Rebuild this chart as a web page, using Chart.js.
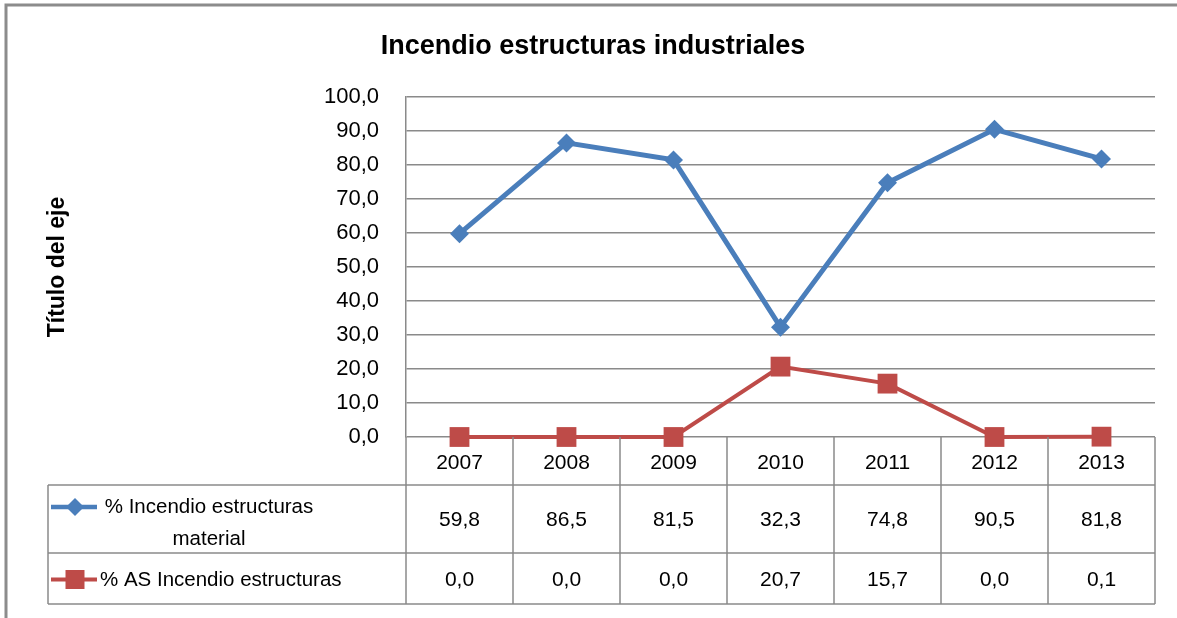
<!DOCTYPE html>
<html lang="es">
<head>
    <meta charset="UTF-8">
    <title>Incendio estructuras industriales</title>
    <script src="https://cdn.jsdelivr.net/npm/chart.js"></script>
    <style>
        body { margin: 0; background: #fff; }
        canvas { display: block; }
    </style>
</head>
<body>
    <canvas id="chart" width="1177" height="618"></canvas>

    <script>
        // Data
        const years = ['2007', '2008', '2009', '2010', '2011', '2012', '2013'];
        const incendioMaterial = [59.8, 86.5, 81.5, 32.3, 74.8, 90.5, 81.8];
        const asIncendio = [0.0, 0.0, 0.0, 20.7, 15.7, 0.0, 0.1];
        const seriesNames = [['% Incendio estructuras', 'material'], ['% AS Incendio estructuras']];
        const chartTitle = 'Incendio estructuras industriales';
        const axisTitle = 'Título del eje';

        const BLUE = '#4a7ebb';
        const RED = '#be4b48';
        const GRID = '#8a8a8a';
        const FONT = '"Liberation Sans", Arial, sans-serif';

        // format number with decimal comma
        function fmt(v) {
            return Number(v).toFixed(1).replace('.', ',');
        }

        function drawMarker(ctx, style, x, y, color) {
            ctx.save();
            ctx.fillStyle = color;
            ctx.beginPath();
            if (style === 'diamond') {
                ctx.moveTo(x - 9, y);
                ctx.lineTo(x, y - 9);
                ctx.lineTo(x + 9, y);
                ctx.lineTo(x, y + 9);
                ctx.closePath();
            } else {
                ctx.rect(x - 9.5, y - 9.5, 19, 19);
            }
            ctx.fill();
            ctx.restore();
        }

        // Draws border, titles and the data table under the plot
        const tablePlugin = {
            id: 'dataTable',
            afterDraw(chart) {
                const ctx = chart.ctx;
                const area = chart.chartArea;
                const x = chart.scales.x;
                const n = years.length;
                const colW = (area.right - area.left) / n;

                ctx.save();

                // outer frame (left and top only)
                ctx.strokeStyle = '#8c8c8c';
                ctx.lineWidth = 3;
                ctx.beginPath();
                ctx.moveTo(6, chart.height);
                ctx.lineTo(6, 5);
                ctx.lineTo(chart.width, 5);
                ctx.stroke();

                // chart title
                ctx.fillStyle = '#000';
                ctx.font = 'bold 27px ' + FONT;
                ctx.textAlign = 'center';
                ctx.textBaseline = 'middle';
                ctx.fillText(chartTitle, 593, 47);

                // y axis title
                ctx.save();
                ctx.translate(58, (area.top + area.bottom) / 2);
                ctx.rotate(-Math.PI / 2);
                ctx.font = 'bold 23px ' + FONT;
                ctx.fillText(axisTitle, 0, 0);
                ctx.restore();

                // table geometry
                const top = area.bottom;
                const headBottom = top + 48;
                const row1Bottom = headBottom + 68;
                const row2Bottom = row1Bottom + 51;
                const labelLeft = 48;

                ctx.strokeStyle = GRID;
                ctx.lineWidth = 1.5;
                ctx.beginPath();
                // horizontal lines
                ctx.moveTo(labelLeft, headBottom);
                ctx.lineTo(area.right, headBottom);
                ctx.moveTo(labelLeft, row1Bottom);
                ctx.lineTo(area.right, row1Bottom);
                ctx.moveTo(labelLeft, row2Bottom);
                ctx.lineTo(area.right, row2Bottom);
                // vertical lines
                for (let i = 0; i <= n; i++) {
                    const lx = area.left + i * colW;
                    ctx.moveTo(lx, top);
                    ctx.lineTo(lx, row2Bottom);
                }
                ctx.moveTo(labelLeft, headBottom);
                ctx.lineTo(labelLeft, row2Bottom);
                ctx.stroke();

                // cells
                ctx.fillStyle = '#000';
                ctx.font = '21px ' + FONT;
                ctx.textAlign = 'center';
                ctx.textBaseline = 'middle';
                for (let i = 0; i < n; i++) {
                    const cx = x.getPixelForValue(i);
                    ctx.fillText(years[i], cx, (top + headBottom) / 2 + 2);
                    ctx.fillText(fmt(incendioMaterial[i]), cx, (headBottom + row1Bottom) / 2 + 1);
                    ctx.fillText(fmt(asIncendio[i]), cx, (row1Bottom + row2Bottom) / 2 + 2);
                }

                // legend keys in the row headers
                const keys = [
                    { color: BLUE, style: 'diamond', y: headBottom + 22, w: 4.5 },
                    { color: RED, style: 'square', y: (row1Bottom + row2Bottom) / 2 + 1, w: 4 }
                ];
                keys.forEach(k => {
                    ctx.strokeStyle = k.color;
                    ctx.lineWidth = k.w;
                    ctx.beginPath();
                    ctx.moveTo(51, k.y);
                    ctx.lineTo(97, k.y);
                    ctx.stroke();
                    drawMarker(ctx, k.style, 75, k.y, k.color);
                });

                // row header labels
                ctx.fillStyle = '#000';
                ctx.font = '20.5px ' + FONT;
                ctx.textAlign = 'center';
                ctx.fillText(seriesNames[0][0], 209, headBottom + 22);
                ctx.fillText(seriesNames[0][1], 209, headBottom + 54);
                ctx.textAlign = 'left';
                ctx.fillText(seriesNames[1][0], 100, (row1Bottom + row2Bottom) / 2 + 2);

                ctx.restore();
            }
        };

        new Chart(document.getElementById('chart'), {
            type: 'line',
            data: {
                labels: years,
                datasets: [{
                    label: seriesNames[0].join(' '),
                    data: incendioMaterial,
                    borderColor: BLUE,
                    backgroundColor: BLUE,
                    borderWidth: 5,
                    pointStyle: 'rectRot',
                    pointRadius: 9.5,
                    pointBorderWidth: 0,
                    pointBackgroundColor: BLUE,
                    tension: 0,
                    clip: false
                }, {
                    label: seriesNames[1][0],
                    data: asIncendio,
                    borderColor: RED,
                    backgroundColor: RED,
                    borderWidth: 4,
                    pointStyle: 'rect',
                    pointRadius: 14,
                    pointBorderWidth: 0,
                    pointBackgroundColor: RED,
                    tension: 0,
                    clip: false
                }]
            },
            options: {
                responsive: false,
                animation: false,
                devicePixelRatio: 1,
                layout: {
                    padding: { left: 306, right: 22, top: 97, bottom: 181 }
                },
                plugins: {
                    legend: { display: false },
                    title: { display: false },
                    tooltip: { enabled: false }
                },
                scales: {
                    x: {
                        display: false,
                        offset: true
                    },
                    y: {
                        min: 0,
                        max: 100,
                        afterFit(scale) {
                            scale.width = 100;
                        },
                        border: { color: GRID, width: 1.5 },
                        grid: {
                            color: GRID,
                            lineWidth: 1.5,
                            drawTicks: false
                        },
                        ticks: {
                            stepSize: 10,
                            padding: 27,
                            color: '#000',
                            font: { family: FONT, size: 22 },
                            callback: v => fmt(v)
                        }
                    }
                }
            },
            plugins: [tablePlugin]
        });
    </script>
</body>
</html>
